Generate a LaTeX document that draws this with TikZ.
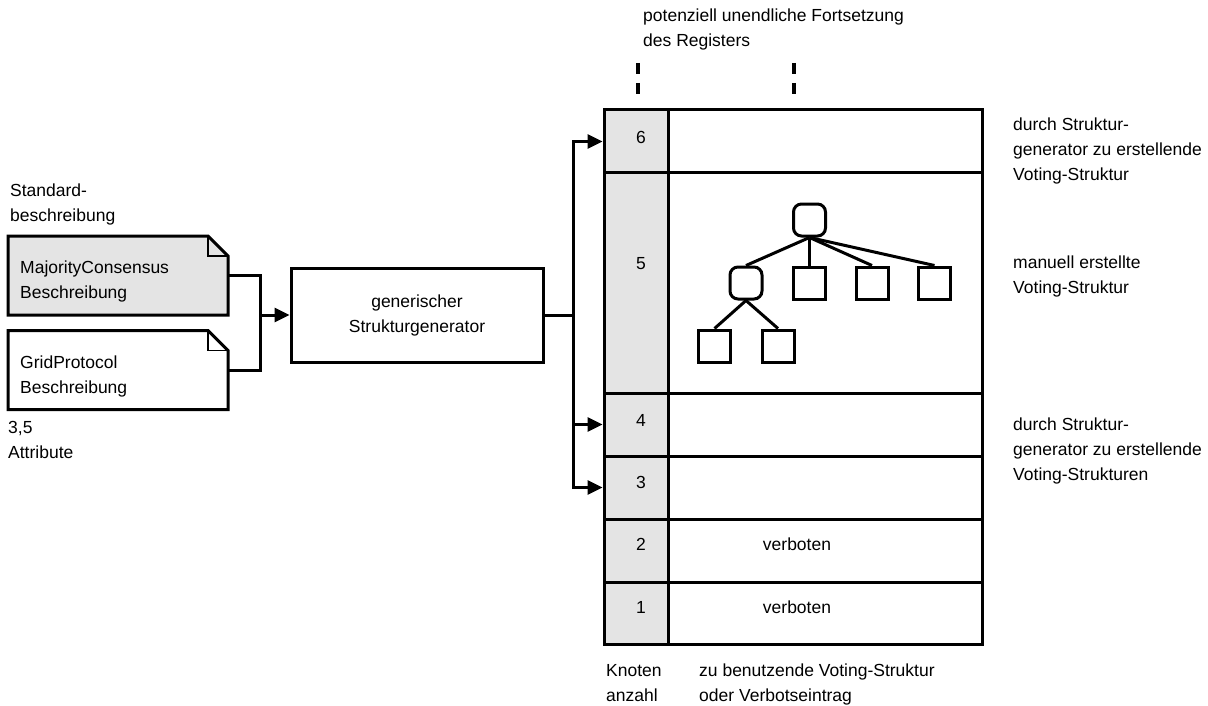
\documentclass[tikz,border=0pt]{standalone}
\usepackage{fontspec}
\setmainfont{Liberation Sans}
\usetikzlibrary{arrows.meta,calc}
\definecolor{cellgray}{RGB}{228,228,228}
\begin{document}
\begin{tikzpicture}[x=1pt,y=-1pt,
  every node/.style={font=\fontsize{17.5}{25}\selectfont},
  txt/.style={anchor=north west, inner sep=0pt, align=left},
  ln/.style={line width=3pt},
  arr/.style={ln, -{Triangle[length=15pt,width=14pt]}},
  docbody/.style={rectangle, inner sep=0pt, outer sep=0pt, minimum width=220, minimum height=79},
  boxnode/.style={draw, ln, rectangle, inner sep=0pt},
  numcell/.style={boxnode, fill=cellgray, minimum width=64},
  entrycell/.style={boxnode, fill=white, minimum width=314},
  leaf/.style={draw, ln, rectangle, minimum width=32, minimum height=32, inner sep=0pt},
  inner/.style={leaf, rounded corners=8pt},
  dashmark/.style={line width=4pt, dash pattern=on 10.7pt off 9.3pt}
]
\useasboundingbox (0,0) rectangle (1208,706);

% --- description documents ---
\node[docbody] (d1) at (118,275.5) {};
\node[docbody] (d2) at (118,370) {};
\foreach \d/\col in {d1/cellgray, d2/white}{
  \draw[ln, fill=\col, line join=miter]
    (\d.north west) -- ($(\d.north east)+(-20,0)$) -- ($(\d.north east)+(0,20)$)
    -- (\d.south east) -- (\d.south west) -- cycle;
  \draw[line width=1.2pt] ($(\d.north east)+(-20,0)$) |- ($(\d.north east)+(0,20)$);
}
\node[txt] (d1txt) at (20,261) {MajorityConsensus\\Beschreibung};
\node[txt] (d2txt) at (20,356) {GridProtocol\\Beschreibung};
\node[txt] (stdlbl) at (10,184) {Standard-\\beschreibung};
\node[txt] (attrlbl) at (8,421) {3,5\\Attribute};

% --- structure generator ---
\node[boxnode, minimum width=252, minimum height=94, align=center] (gen) at (417,315)
  {generischer\\Strukturgenerator};

\coordinate (join) at (260,315);
\draw[ln] (d1.east) -| (join) |- (d2.east);
\draw[arr] (join) -- (gen.west);

% --- register ---
\node[numcell, minimum height=63]  (n6) at (636,141.5) {};
\node[numcell, minimum height=220] (n5) at (636,283) {};
\node[numcell, minimum height=63]  (n4) at (636,424.5) {};
\node[numcell, minimum height=63]  (n3) at (636,487.5) {};
\node[numcell, minimum height=63]  (n2) at (636,550.5) {};
\node[numcell, minimum height=62]  (n1) at (636,613) {};
\node[entrycell, minimum height=63]  (e6) at (825,141.5) {};
\node[entrycell, minimum height=220] (e5) at (825,283) {};
\node[entrycell, minimum height=63]  (e4) at (825,424.5) {};
\node[entrycell, minimum height=63]  (e3) at (825,487.5) {};
\node[entrycell, minimum height=63]  (e2) at (825,550.5) {};
\node[entrycell, minimum height=62]  (e1) at (825,613) {};

\node (k6) at (641,137) {6};
\node (k5) at (641,264) {5};
\node (k4) at (641,420) {4};
\node (k3) at (641,482) {3};
\node (k2) at (641,544) {2};
\node (k1) at (641,607) {1};
\node (v2) at (797,544) {verboten};
\node (v1) at (797,607) {verboten};

% generator output distributed to the register rows
\coordinate (split) at (573,315);
\draw[ln] (gen.east) -- (split);
\draw[arr] (split) |- (n6.west);
\draw[arr] (split) |- (n4.west);
\draw[arr] (split) |- (n3.west);

% continuation marks above the register
\coordinate (c1a) at (638,63);
\coordinate (c1b) at (638,94);
\coordinate (c2a) at (794,63);
\coordinate (c2b) at (794,94);
\draw[dashmark] (c1a) -- (c1b);
\draw[dashmark] (c2a) -- (c2b);
\node[txt] (toplbl) at (643,9) {potenziell unendliche Fortsetzung\\des Registers};

% --- manually built voting structure ---
\node[inner] (t0) at (809.5,220) {};
\node[inner] (t1) at (746,283) {};
\node[leaf]  (t2) at (809.5,283) {};
\node[leaf]  (t3) at (872,283) {};
\node[leaf]  (t4) at (934.5,283) {};
\node[leaf]  (t5) at (714.5,346) {};
\node[leaf]  (t6) at (778,346) {};
\foreach \c in {t1,t2,t3,t4} \draw[ln] (t0.south) -- (\c.north);
\foreach \c in {t5,t6} \draw[ln] (t1.south) -- (\c.north);

% --- captions ---
\node[txt] (r6lbl) at (1013,118) {durch Struktur-\\generator zu erstellende\\Voting-Struktur};
\node[txt] (r5lbl) at (1013,256) {manuell erstellte\\Voting-Struktur};
\node[txt] (r4lbl) at (1013,418) {durch Struktur-\\generator zu erstellende\\Voting-Strukturen};
\node[txt] (knlbl) at (606,664) {Knoten\\anzahl};
\node[txt] (entlbl) at (699,664) {zu benutzende Voting-Struktur\\oder Verbotseintrag};
\end{tikzpicture}
\end{document}
